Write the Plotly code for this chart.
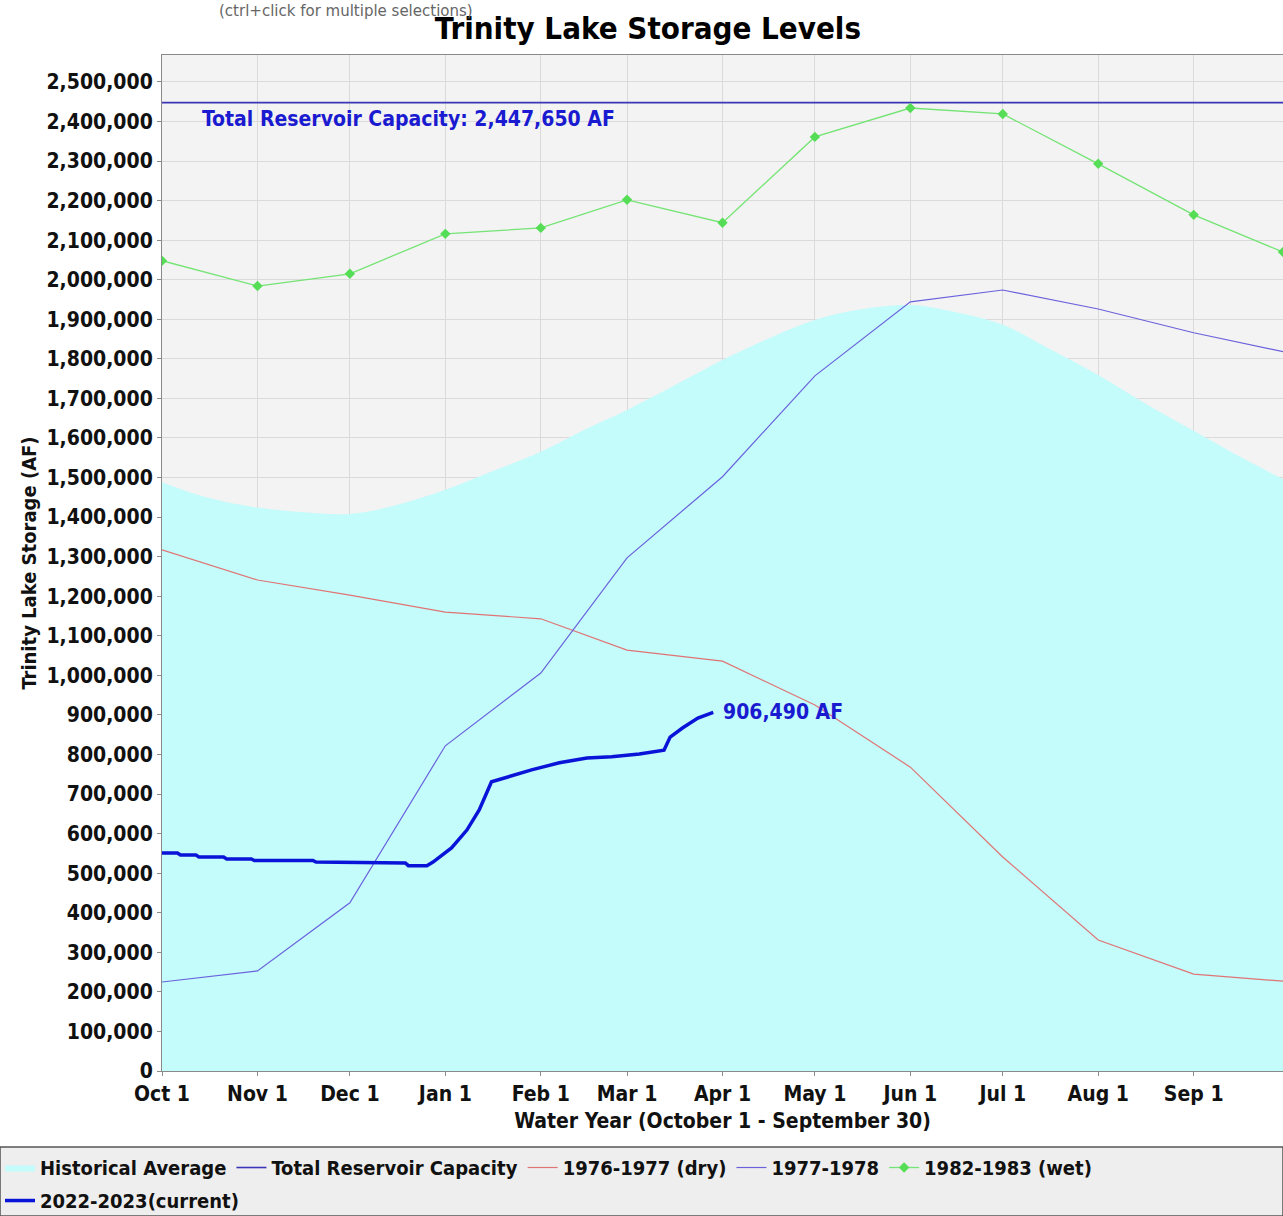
import plotly.graph_objects as go

# ---------------- data ----------------
month_dates = ["2022-10-01", "2022-11-01", "2022-12-01", "2023-01-01", "2023-02-01",
               "2023-03-01", "2023-04-01", "2023-05-01", "2023-06-01", "2023-07-01",
               "2023-08-01", "2023-09-01", "2023-09-30"]
tick_dates = month_dates[:-1]

hist_dates = ["2022-10-01", "2022-10-15", "2022-11-01", "2022-11-15", "2022-12-01",
              "2022-12-15", "2023-01-01", "2023-01-15", "2023-02-01", "2023-02-15",
              "2023-03-01", "2023-03-15", "2023-04-01", "2023-04-15", "2023-05-01",
              "2023-05-15", "2023-06-01", "2023-06-15", "2023-07-01", "2023-07-15",
              "2023-08-01", "2023-08-15", "2023-09-01", "2023-09-15", "2023-09-30"]
hist_avg = [1488000, 1451000, 1424000, 1413000, 1408000,
            1428000, 1469000, 1512000, 1565000, 1620000,
            1671000, 1727000, 1797000, 1848000, 1898000,
            1924000, 1936000, 1919000, 1886000, 1830000,
            1759000, 1693000, 1618000, 1557000, 1496000]

capacity = 2447650

dry_1977 = [1317000, 1241000, 1203000, 1160000, 1143000, 1064000, 1036000,
            925000, 768000, 541000, 331000, 245000, 227000]
yr_1978 = [225000, 253000, 425000, 822000, 1006000, 1297000, 1502000,
           1757000, 1944000, 1974000, 1926000, 1866000, 1818000]
wet_1983 = [2048000, 1984000, 2015000, 2116000, 2131000, 2202000, 2144000,
            2361000, 2434000, 2419000, 2293000, 2164000, 2070000]

cur_dates = ["2022-10-01", "2022-10-06", "2022-10-07", "2022-10-12", "2022-10-13",
             "2022-10-21", "2022-10-22", "2022-10-30", "2022-10-31", "2022-11-19",
             "2022-11-20", "2022-12-07", "2022-12-08", "2022-12-19", "2022-12-20",
             "2022-12-26", "2022-12-28", "2023-01-02", "2023-01-03", "2023-01-08",
             "2023-01-12", "2023-01-16", "2023-01-21", "2023-01-29", "2023-02-07",
             "2023-02-16", "2023-02-24", "2023-03-05", "2023-03-13", "2023-03-15",
             "2023-03-19", "2023-03-24", "2023-03-29"]
cur_vals = [551000, 551000, 546000, 546000, 541000,
            541000, 536000, 536000, 532000, 532000,
            528000, 528000, 526000, 526000, 519000,
            519000, 528000, 560000, 564000, 609000,
            660000, 731000, 743000, 761000, 779000,
            791000, 794000, 801000, 811000, 844000,
            867000, 892000, 906490]

FONT = "DejaVu Sans Condensed, DejaVu Sans"

fig = go.Figure()

fig.add_trace(go.Scatter(x=hist_dates, y=hist_avg, name="Historical Average",
                         mode="lines", line=dict(color="#c4fbfb", width=0, shape="spline"),
                         fill="tozeroy", fillcolor="#c4fbfb"))
fig.add_trace(go.Scatter(x=[month_dates[0], month_dates[-1]], y=[capacity, capacity],
                         name="Total Reservoir Capacity", mode="lines",
                         line=dict(color="#3b35b8", width=1.6)))
fig.add_trace(go.Scatter(x=month_dates, y=dry_1977, name="1976-1977 (dry)", mode="lines",
                         line=dict(color="#e07474", width=1.2)))
fig.add_trace(go.Scatter(x=month_dates, y=yr_1978, name="1977-1978", mode="lines",
                         line=dict(color="#6a62dc", width=1.2)))
fig.add_trace(go.Scatter(x=month_dates, y=wet_1983, name="1982-1983 (wet)", mode="lines+markers",
                         line=dict(color="#74e474", width=1.3),
                         marker=dict(symbol="diamond", size=8, color="#55dd55")))
fig.add_trace(go.Scatter(x=cur_dates, y=cur_vals, name="2022-2023(current)", mode="lines",
                         line=dict(color="#0a14d8", width=3.5), legend="legend2"))

# annotations
fig.add_annotation(x=0.034, xref="paper", y=capacity, yref="y", yanchor="top", xanchor="left",
                   yshift=-2, text="Total Reservoir Capacity: 2,447,650 AF", showarrow=False,
                   font=dict(family=FONT, size=21, color="#1a1ad0", weight="bold"))
fig.add_annotation(x=cur_dates[-1], y=cur_vals[-1], xanchor="left", yanchor="middle", xshift=8,
                   text=f"{cur_vals[-1]:,} AF", showarrow=False,
                   font=dict(family=FONT, size=21, color="#1a1ad0", weight="bold"))
fig.add_annotation(x=0.164, xref="paper", xanchor="center", y=1.0545, yref="paper", yanchor="top",
                   text="(ctrl+click for multiple selections)", showarrow=False,
                   font=dict(family="DejaVu Sans", size=15, color="#666666"))

# legend background box
fig.add_shape(type="rect", xref="paper", yref="paper", x0=-0.1445, x1=1.0, y0=-0.1427, y1=-0.0748,
              fillcolor="#eeeeee", line=dict(color="#555555", width=1.5), layer="below")

legend_font = dict(family=FONT, size=20, color="#111111", weight="bold")

fig.update_layout(
    width=1283, height=1216,
    margin=dict(l=162, r=0, t=55, b=145, autoexpand=False),
    paper_bgcolor="white", plot_bgcolor="#f3f3f3",
    font=dict(family=FONT, color="#111111"),
    title=dict(text="Trinity Lake Storage Levels", x=0.505, xanchor="center",
               y=0.977, yanchor="middle",
               font=dict(family=FONT, size=31, color="#000000", weight="bold")),
    showlegend=True,
    legend=dict(orientation="h", x=-0.1445, xanchor="left", y=-0.0758, yanchor="top",
                bgcolor="rgba(0,0,0,0)", font=legend_font, itemwidth=30, tracegroupgap=0),
    legend2=dict(orientation="h", x=-0.1445, xanchor="left", y=-0.1083, yanchor="top",
                 bgcolor="rgba(0,0,0,0)", font=legend_font, itemwidth=30),
    xaxis=dict(range=["2022-10-01", "2023-09-30"], tickvals=tick_dates, tickformat="%b %-d",
               showgrid=True, gridcolor="#dadada", gridwidth=1, automargin=False,
               showline=True, linecolor="#8a8a8a", linewidth=1, mirror=True,
               ticks="outside", ticklen=4, tickcolor="#8a8a8a",
               tickfont=dict(family=FONT, size=21, color="#111111", weight="bold"),
               title=dict(text="Water Year (October 1 - September 30)", standoff=8,
                          font=dict(family=FONT, size=21, color="#111111", weight="bold")),
               zeroline=False),
    yaxis=dict(range=[0, 2568000], dtick=100000, tickformat=",.0f",
               showgrid=True, gridcolor="#dadada", gridwidth=1, automargin=False,
               showline=True, linecolor="#8a8a8a", linewidth=1, mirror=True,
               ticks="outside", ticklen=4, tickcolor="#8a8a8a",
               tickfont=dict(family=FONT, size=21, color="#111111", weight="bold"),
               title=dict(text="Trinity Lake Storage (AF)", standoff=4,
                          font=dict(family=FONT, size=20, color="#111111", weight="bold")),
               zeroline=False),
)

fig.write_html("out.html", config={"displayModeBar": False},
               post_script="document.body.style.margin='0';")
